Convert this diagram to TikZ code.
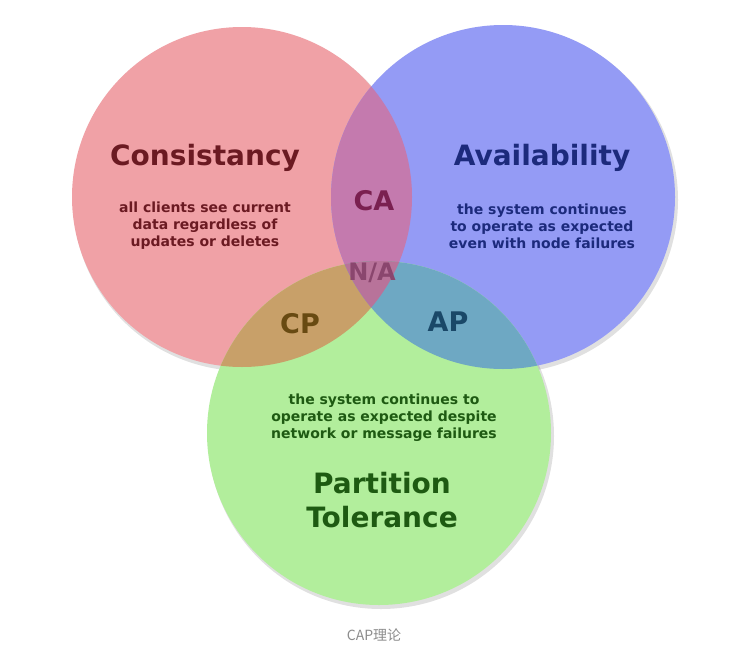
\documentclass[tikz,border=0pt]{standalone}
\usepackage{fontspec}
\setmainfont{DejaVu Sans}
\newfontfamily\cjk{Noto Sans CJK SC}
\usepackage{xcolor}
\usetikzlibrary{positioning, calc}

\definecolor{cfill}{HTML}{F0A1A6}
\definecolor{afill}{HTML}{949BF5}
\definecolor{pfill}{HTML}{B2EE9C}
\definecolor{cafill}{HTML}{C47AAE}
\definecolor{cpfill}{HTML}{C8A069}
\definecolor{apfill}{HTML}{6EA8C3}
\definecolor{nafill}{HTML}{B8739A}
\definecolor{ctext}{HTML}{6B1A22}
\definecolor{atext}{HTML}{1C2A7C}
\definecolor{ptext}{HTML}{1E5A12}

\begin{document}
\begin{tikzpicture}[
    x=1pt, y=-1pt,
    title/.style={font=\bfseries\fontsize{28}{34}\selectfont, align=center, inner sep=0pt},
    note/.style={font=\bfseries\fontsize{14}{17}\selectfont, align=center, inner sep=0pt},
    zone/.style={font=\bfseries\fontsize{27}{32}\selectfont, inner sep=0pt},
    shade/.style={fill=black, opacity=0.12}
  ]
  \useasboundingbox[fill=white] (0,0) rectangle (730,653);

  \coordinate (C) at (242,197);
  \coordinate (A) at (503,197);
  \coordinate (P) at (379,433);

  % soft shadows
  \fill[shade] ($(C)+(2,3)$) circle[radius=171pt];
  \fill[shade] ($(A)+(2,3)$) circle[radius=173pt];
  \fill[shade] ($(P)+(2,3)$) circle[radius=173pt];

  % Circles
  \fill[cfill] (C) circle[radius=170pt];
  \fill[afill] (A) circle[radius=172pt];
  \fill[pfill] (P) circle[radius=172pt];

  % Overlaps
  \begin{scope}
    \clip (C) circle[radius=170pt];
    \fill[cafill] (A) circle[radius=172pt];
    \fill[cpfill] (P) circle[radius=172pt];
  \end{scope}
  \begin{scope}
    \clip (A) circle[radius=172pt];
    \fill[apfill] (P) circle[radius=172pt];
  \end{scope}
  \begin{scope}
    \clip (C) circle[radius=170pt];
    \clip (A) circle[radius=172pt];
    \fill[nafill] (P) circle[radius=172pt];
  \end{scope}

  % Consistancy
  \node[title, text=ctext] (ctitle) at (205,158) {Consistancy};
  \node[note, text=ctext] (cnote) at (205,226) {all clients see current\\data regardless of\\updates or deletes};

  % Availability
  \node[title, text=atext] (atitle) at (542,158) {Availability};
  \node[note, text=atext] (anote) at (542,226) {the system continues\\to operate as expected\\even with node failures};

  % Partition Tolerance
  \node[note, text=ptext] (pnote) at (384,418) {the system continues to\\operate as expected despite\\network or message failures};
  \node[title, text=ptext] (ptitle) at (382,500) {Partition\\Tolerance};

  % Overlap labels
  \node[zone, text={rgb,255:red,122;green,32;blue,80}] (ca) at (374,201) {CA};
  \node[font=\bfseries\fontsize{24}{28}\selectfont, inner sep=0pt, text={rgb,255:red,138;green,70;blue,110}] (na) at (372,273) {N/A};
  \node[zone, text={rgb,255:red,104;green,74;blue,18}] (cp) at (300,324) {CP};
  \node[zone, text={rgb,255:red,26;green,72;blue,104}] (ap) at (448,322) {AP};

  % Caption
  \node[font=\cjk\fontsize{14}{16}\selectfont, text=black!45] (caption) at (374,635) {CAP理论};
\end{tikzpicture}
\end{document}
